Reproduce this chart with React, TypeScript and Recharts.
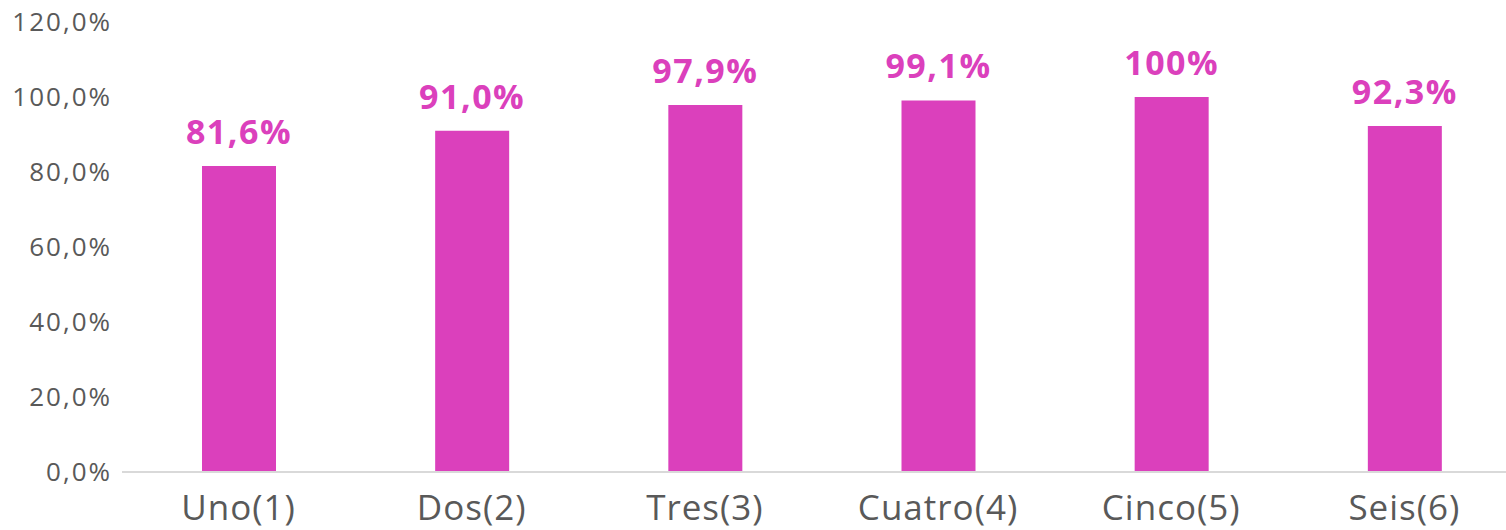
import React from "react";
import { BarChart, Bar, XAxis, YAxis, LabelList } from "recharts";

const categories = ["Uno(1)", "Dos(2)", "Tres(3)", "Cuatro(4)", "Cinco(5)", "Seis(6)"];
const values = [0.816, 0.91, 0.979, 0.991, 1.0, 0.923];
const valueLabels = ["81,6%", "91,0%", "97,9%", "99,1%", "100%", "92,3%"];
const yTicks = [0, 0.2, 0.4, 0.6, 0.8, 1.0, 1.2];

const data = categories.map((c, i) => ({ name: c, value: values[i], label: valueLabels[i] }));

const fmtY = (v: number) => (v * 100).toFixed(1).replace(".", ",") + "%";

export default function App() {
  return (
    <div
      style={{
        position: "fixed",
        left: 0,
        top: 0,
        width: 1506,
        height: 530,
        overflow: "hidden",
        background: "#ffffff",
      }}
    >
      <BarChart
        width={1530}
        height={530}
        data={data}
        margin={{ top: 22, right: 9, left: 0, bottom: 0 }}
      >
        <XAxis
          dataKey="name"
          height={58}
          tickLine={false}
          axisLine={{ stroke: "#D9D9D9", strokeWidth: 2 }}
          tick={{ fill: "#595959", fontSize: 35, fontFamily: "Open Sans", letterSpacing: 1 }}
          tickMargin={17}
          interval={0}
        />
        <YAxis
          width={122}
          domain={[0, 1.2]}
          ticks={yTicks}
          tickFormatter={fmtY}
          axisLine={false}
          tickLine={false}
          tickSize={0}
          tickMargin={10}
          tick={{ fill: "#595959", fontSize: 26, fontFamily: "Open Sans", letterSpacing: 2 }}
        />
        <Bar dataKey="value" fill="#DB40BC" barSize={74} isAnimationActive={false}>
          <LabelList
            dataKey="label"
            position="top"
            offset={22}
            fill="#DB40BC"
            style={{ fontSize: 34, fontWeight: 700, fontFamily: "Open Sans", letterSpacing: 1.5 }}
          />
        </Bar>
      </BarChart>
    </div>
  );
}
